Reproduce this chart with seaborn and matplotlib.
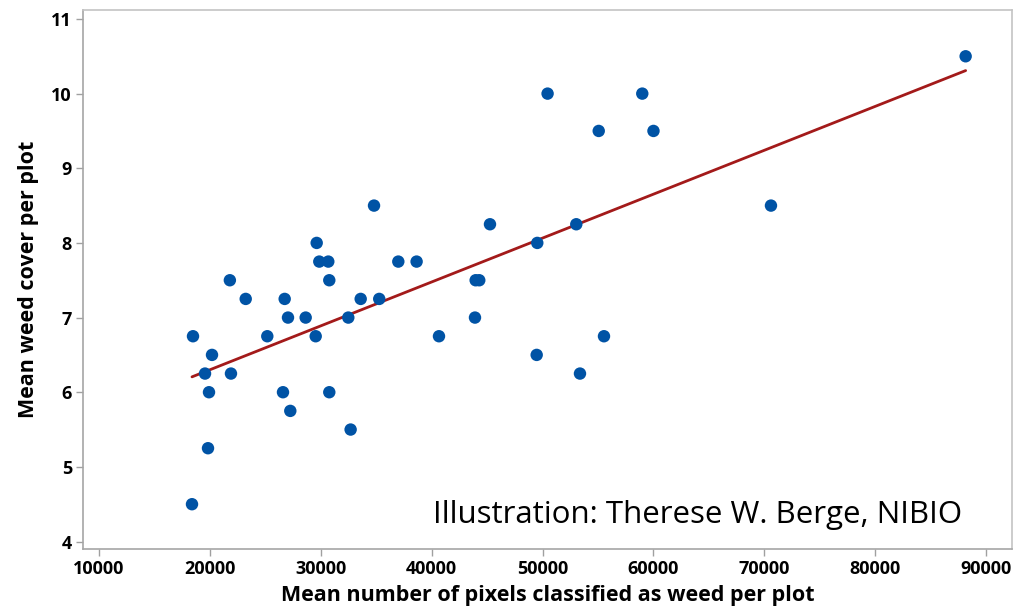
import numpy as np
import pandas as pd
import matplotlib
matplotlib.use("Agg")
import matplotlib.pyplot as plt
import seaborn as sns

pixels = [18386, 19829, 19919, 19560, 20190, 18476, 21900, 21800, 23230, 25176,
          26591, 26744, 27042, 27250, 28637, 29540, 29630, 29865, 30676, 30766,
          30766, 32480, 32690, 33598, 34800, 35270, 36990, 38640, 40658, 43904,
          43965, 44290, 45257, 49468, 53372, 55537, 49522, 53039, 50451, 55063,
          58990, 60000, 70595, 88150]
cover = [4.5, 5.25, 6.0, 6.25, 6.5, 6.75, 6.25, 7.5, 7.25, 6.75,
         6.0, 7.25, 7.0, 5.75, 7.0, 6.75, 8.0, 7.75, 7.75, 7.5,
         6.0, 7.0, 5.5, 7.25, 8.5, 7.25, 7.75, 7.75, 6.75, 7.0,
         7.5, 7.5, 8.25, 6.5, 6.25, 6.75, 8.0, 8.25, 10.0, 9.5,
         10.0, 9.5, 8.5, 10.5]
x_ticks = [10000, 20000, 30000, 40000, 50000, 60000, 70000, 80000, 90000]
y_ticks = [4, 5, 6, 7, 8, 9, 10, 11]

df = pd.DataFrame({"pixels": pixels, "cover": cover})

sns.set_theme(style="white")
plt.rcParams['font.family'] = ['Open Sans', 'DejaVu Sans']

fig = plt.figure(figsize=(10.28, 6.13), dpi=100)
ax = fig.add_axes([83/1028, 1-549/613, (1012-83)/1028, (549-10)/613])

sns.regplot(data=df, x="pixels", y="cover", ci=None, ax=ax,
            scatter_kws=dict(s=80, color="#0053a5", edgecolor="none", alpha=1, zorder=3),
            line_kws=dict(color="#a31a1a", lw=2, zorder=2))

ax.set_xlim(8557, 92330)
ax.set_ylim(3.90, 11.12)
ax.set_xticks(x_ticks)
ax.set_yticks(y_ticks)
ax.set_xticklabels([str(v) for v in x_ticks], fontsize=13, fontweight="bold", color="black")
ax.set_yticklabels([str(v) for v in y_ticks], fontsize=13, fontweight="bold", color="black")
ax.tick_params(axis="both", direction="out", length=5, width=1, color="#a0a0a0", pad=3)
ax.tick_params(axis="x", bottom=True)
ax.tick_params(axis="y", left=True)

for side in ["left", "bottom"]:
    ax.spines[side].set_color("#a6a6a6")
    ax.spines[side].set_linewidth(1.2)
for side in ["top", "right"]:
    ax.spines[side].set_color("#c4c4c4")
    ax.spines[side].set_linewidth(1.2)

ax.set_xlabel("Mean number of pixels classified as weed per plot", fontsize=15.5,
              fontweight="bold", color="black", labelpad=5)
ax.set_ylabel("Mean weed cover per plot", fontsize=15.5, fontweight="bold",
              color="black", labelpad=9)

ax.text(0.946, 0.049, "Illustration: Therese W. Berge, NIBIO", transform=ax.transAxes,
        ha="right", va="baseline", fontsize=22.5, color="black")

fig.savefig("out.png", dpi=100)
